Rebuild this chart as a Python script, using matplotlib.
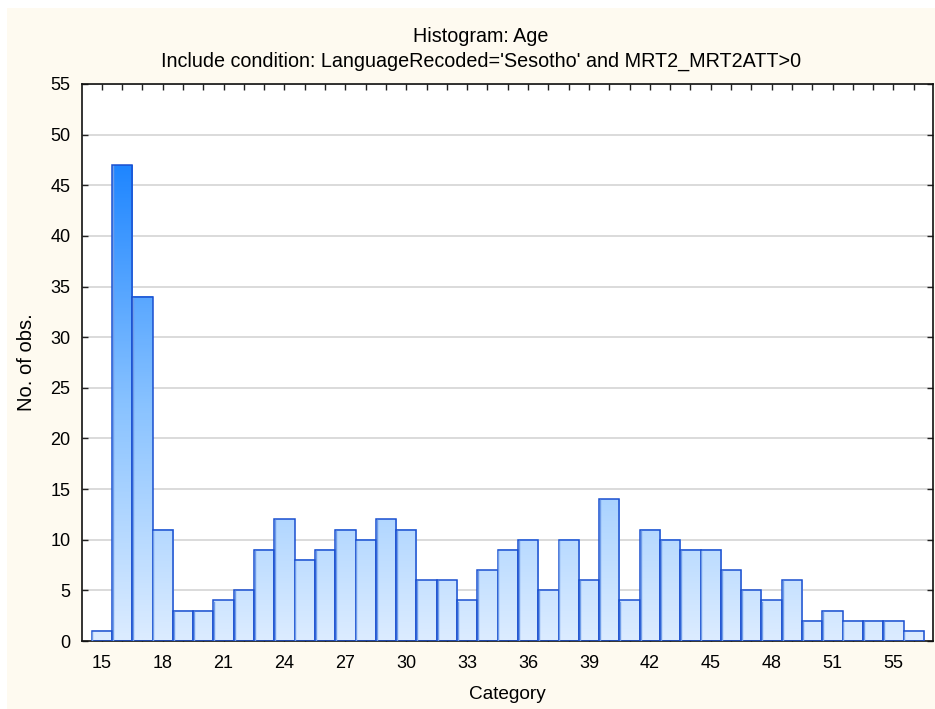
import numpy as np
import matplotlib
matplotlib.use("Agg")
import matplotlib.pyplot as plt
from matplotlib.colors import LinearSegmentedColormap, Normalize
from matplotlib.patches import Rectangle

# ---- data ----
categories = list(range(15, 56))
counts = [1, 47, 34, 11, 3, 3, 4, 5, 9, 12, 8, 9, 11, 10, 12, 11, 6, 6, 4, 7,
          9, 10, 5, 10, 6, 14, 4, 11, 10, 9, 9, 7, 5, 4, 6, 2, 3, 2, 2, 2, 1]
xtick_pos = [15, 18, 21, 24, 27, 30, 33, 36, 39, 42, 45, 48, 51, 54]
xtick_labels = ["15", "18", "21", "24", "27", "30", "33", "36", "39", "42",
                "45", "48", "51", "55"]
yticks = list(range(0, 60, 5))
title_lines = ["Histogram: Age",
               "Include condition: LanguageRecoded='Sesotho' and MRT2_MRT2ATT>0"]

plt.rcParams['font.family'] = ['Liberation Sans', 'DejaVu Sans']

W, H = 935, 709
fig = plt.figure(figsize=(W / 100, H / 100), dpi=100, facecolor='white')
# cream panel
fig.patches.append(Rectangle((7 / W, 0), 1 - 7 / W, 1 - 8 / H, transform=fig.transFigure,
                             facecolor='#fefaf0', edgecolor='none', zorder=-10))

ax = fig.add_axes([81.5 / W, (H - 641) / H, (933 - 81.5) / W, (641 - 84) / H])
ax.set_facecolor('white')

cmap = LinearSegmentedColormap.from_list('g', ['#dcecff', '#88c2ff', '#1f86ff'])
norm = Normalize(vmin=0, vmax=max(counts))

for y in yticks[1:]:
    ax.axhline(y, color='#dadada', lw=1.4, zorder=0)

for x, h in zip(categories, counts):
    grad = np.linspace(0, h, 200).reshape(-1, 1)
    ax.imshow(grad, cmap=cmap, norm=norm, origin='lower', aspect='auto',
              extent=[x - 0.5, x + 0.5, 0, h], interpolation='bilinear', zorder=2)
    ax.add_patch(Rectangle((x - 0.5, 0), 1, h, facecolor='none',
                           edgecolor='#1a4fd0', lw=1.1, zorder=3))
    ax.plot([x - 0.5 + 0.04, x - 0.5 + 0.04], [0, h - 0.1], color='#6f9ce8', lw=1.0, zorder=3)

ax.set_xlim(14, 55.95)
ax.set_ylim(0, 55)

ax.set_xticks(xtick_pos)
ax.set_xticklabels(xtick_labels)
ax.set_xticks(categories, minor=True)
ax.set_yticks(yticks)
ax.tick_params(axis='both', which='both', direction='in', length=4, width=1,
               top=True, right=True, labelsize=13, color='#222222')
ax.tick_params(axis='x', pad=10)
ax.tick_params(axis='y', pad=8)
for s in ax.spines.values():
    s.set_linewidth(1.2)
    s.set_color('#111111')

ax.set_xlabel('Category', fontsize=13.7, labelpad=10)
ax.set_ylabel('No. of obs.', fontsize=14.5, labelpad=10)

fig.text(481 / W, 1 - 36 / H, title_lines[0], ha='center', va='center', fontsize=14.2)
fig.text(481 / W, 1 - 61 / H, title_lines[1], ha='center', va='center', fontsize=14.2)

fig.savefig('out.png', dpi=100, facecolor=fig.get_facecolor())
